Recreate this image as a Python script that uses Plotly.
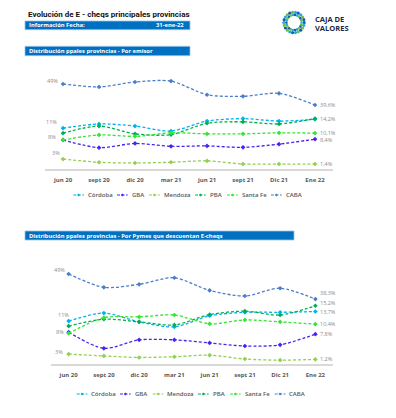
import math
import plotly.graph_objects as go

# ---------------- data ----------------
categories = ["jun 20", "sept 20", "dic 20", "mar 21", "jun 21", "sept 21", "Dic 21", "Ene 22"]
series_names = ["Córdoba", "GBA", "Mendoza", "PBA", "Santa Fe", "CABA"]

# Chart 1 - Por emisor (%)
emisor_cordoba = [11.5, 12.7, 12.1, 10.7, 13.5, 14.2, 13.5, 14.0]
emisor_gba = [8.2, 6.0, 7.2, 6.4, 6.5, 6.1, 7.0, 8.4]
emisor_mendoza = [2.8, 1.9, 1.7, 1.9, 2.3, 1.4, 1.4, 1.4]
emisor_pba = [10.1, 12.1, 9.9, 9.7, 12.9, 13.3, 12.7, 14.2]
emisor_santafe = [8.2, 9.6, 9.2, 10.2, 9.9, 9.9, 10.2, 10.1]
emisor_caba = [49.0, 47.7, 49.9, 50.3, 44.2, 43.5, 44.8, 39.6]

# Chart 2 - Por Pymes que descuentan E-cheqs (%)
pymes_cordoba = [11.2, 13.3, 11.0, 9.7, 12.6, 13.5, 13.5, 13.7]
pymes_gba = [8.3, 4.1, 6.3, 6.3, 5.5, 4.7, 5.0, 7.8]
pymes_mendoza = [2.6, 2.1, 1.7, 1.9, 2.3, 1.3, 1.0, 1.2]
pymes_pba = [9.9, 11.7, 11.0, 10.2, 12.9, 13.8, 12.8, 15.2]
pymes_santafe = [8.0, 12.1, 12.3, 12.8, 10.5, 11.5, 11.0, 10.4]
pymes_caba = [49.0, 43.3, 44.6, 47.4, 42.0, 39.6, 42.9, 38.3]

emisor = [emisor_cordoba, emisor_gba, emisor_mendoza, emisor_pba, emisor_santafe, emisor_caba]
pymes = [pymes_cordoba, pymes_gba, pymes_mendoza, pymes_pba, pymes_santafe, pymes_caba]

colors = ["#00B0F0", "#4A22F2", "#92D050", "#00B050", "#33E633", "#4A7EC9"]

W, H = 396, 418
FONT = "Open Sans"
GRAY = "#595959"
LBL = "#8E8A88"


def px(x):
    return x / W


def py(y):
    return 1 - y / H


fig = go.Figure()

for i, name in enumerate(series_names):
    sec = name == "CABA"
    fig.add_trace(go.Scatter(
        x=categories, y=emisor[i], name=name, mode="lines+markers",
        xaxis="x", yaxis="y2" if sec else "y",
        line=dict(color=colors[i], width=1.3, dash="3px,2px", shape="spline", smoothing=0.8),
        marker=dict(color=colors[i], size=3.6, symbol="diamond"),
        showlegend=False, hoverinfo="skip"))
    fig.add_trace(go.Scatter(
        x=categories, y=pymes[i], name=name, mode="lines+markers",
        xaxis="x2", yaxis="y4" if sec else "y3",
        line=dict(color=colors[i], width=1.3, dash="3px,2px", shape="spline", smoothing=0.8),
        marker=dict(color=colors[i], size=3.6, symbol="diamond"),
        showlegend=False, hoverinfo="skip"))

# ---------------- data labels ----------------
ann = []


def lab(xi, val, text, xref, yref, anchor, xs, ys):
    ann.append(dict(x=categories[xi], y=val, xref=xref, yref=yref, text=text,
                    showarrow=False, xanchor=anchor, yanchor="middle",
                    xshift=xs, yshift=ys, font=dict(size=5.5, color=LBL, family=FONT)))


def pct(v):
    return f"{v:.1f}".replace(".", ",") + "%"


# chart 1 start labels
lab(0, emisor_caba[0], "49%", "x", "y2", "right", -3, 3)
lab(0, emisor_cordoba[0], "11%", "x", "y", "right", -4, 6)
lab(0, emisor_gba[0], "8%", "x", "y", "right", -5, 3)
lab(0, emisor_mendoza[0], "3%", "x", "y", "right", -1, 6)
# chart 1 end labels
lab(7, emisor_caba[7], pct(emisor_caba[7]), "x", "y2", "left", 3, 0)
lab(7, emisor_pba[7], pct(emisor_pba[7]), "x", "y", "left", 3, 0)
lab(7, emisor_santafe[7], pct(emisor_santafe[7]), "x", "y", "left", 3, 0)
lab(7, emisor_gba[7], pct(emisor_gba[7]), "x", "y", "left", 3, -1)
lab(7, emisor_mendoza[7], pct(emisor_mendoza[7]), "x", "y", "left", 3, 0)
# chart 2 start labels
lab(0, pymes_caba[0], "49%", "x2", "y4", "right", -2, 4)
lab(0, pymes_cordoba[0], "11%", "x2", "y3", "right", 2, 6)
lab(0, pymes_gba[0], "8%", "x2", "y3", "right", -3, 0)
lab(0, pymes_mendoza[0], "3%", "x2", "y3", "right", -4, 2)
# chart 2 end labels
lab(7, pymes_caba[7], pct(pymes_caba[7]), "x2", "y4", "left", 3, 6)
lab(7, pymes_pba[7], pct(pymes_pba[7]), "x2", "y3", "left", 3, 3)
lab(7, pymes_cordoba[7], pct(pymes_cordoba[7]), "x2", "y3", "left", 3, 0)
lab(7, pymes_santafe[7], pct(pymes_santafe[7]), "x2", "y3", "left", 3, 0)
lab(7, pymes_gba[7], pct(pymes_gba[7]), "x2", "y3", "left", 3, 0)
lab(7, pymes_mendoza[7], pct(pymes_mendoza[7]), "x2", "y3", "left", 3, 0)

shapes = []

# ---------------- header ----------------
ann.append(dict(x=px(26), y=py(14.5), xref="paper", yref="paper", xanchor="left", yanchor="middle",
                text="<b>Evolución de E - cheqs principales provincias</b>", showarrow=False,
                font=dict(size=8, color="#111111", family="Roboto")))


def bar(x0, x1, y0, y1):
    shapes.append(dict(type="rect", xref="paper", yref="paper", x0=px(x0), x1=px(x1),
                       y0=py(y1), y1=py(y0), fillcolor="#0070C0",
                       line=dict(color="#9DC3E6", width=0.8), layer="below"))


def bar_text(x, y, text, anchor="left"):
    ann.append(dict(x=px(x), y=py(y), xref="paper", yref="paper", xanchor=anchor, yanchor="middle",
                    text="<b>" + text + "</b>", showarrow=False,
                    font=dict(size=5.8, color="white", family=FONT)))


bar(25, 190, 21, 29.7)
bar_text(26.5, 25.5, "Información Fecha:")
bar_text(186, 25.5, "31-ene-22", "right")
bar(25, 190, 46.3, 55.7)
bar_text(26.5, 51, "Distribución ppales provincias - Por emisor")
bar(25, 294, 231, 240)
bar_text(26.5, 235.5, "Distribución ppales provincias - Por Pymes que descuentan E-cheqs")

# ---------------- logo ----------------
logo_cols = ["#1E5AA8", "#29ABE2", "#6CC04A", "#1E5AA8", "#6CC04A", "#29ABE2"]
cx, cy = 294, 22.5
n = 22
for k in range(n):
    a = 2 * math.pi * k / n
    for r, s in ((10.2, 1.6), (7.6, 1.3)):
        x = cx + r * math.cos(a)
        y = cy + r * math.sin(a)
        shapes.append(dict(type="circle", xref="paper", yref="paper",
                           x0=px(x - s), x1=px(x + s), y0=py(y + s), y1=py(y - s),
                           fillcolor=logo_cols[(k + (r < 9)) % len(logo_cols)],
                           line=dict(width=0)))
ann.append(dict(x=px(313), y=py(19.5), xref="paper", yref="paper", xanchor="left", yanchor="middle",
                text="<b>CAJA DE</b>", showarrow=False, font=dict(size=7.5, color="#1B2A4A", family=FONT)))
ann.append(dict(x=px(313), y=py(28), xref="paper", yref="paper", xanchor="left", yanchor="middle",
                text="<b>VALORES</b>", showarrow=False, font=dict(size=7.5, color="#1B2A4A", family=FONT)))

# ---------------- custom legends ----------------
legend1_x = [73.3, 117, 149, 195, 227, 271]
legend2_x = [76.7, 120, 152.7, 198, 230, 274.7]


def legend(xs, yc):
    for i, name in enumerate(series_names):
        x0 = xs[i]
        shapes.append(dict(type="line", xref="paper", yref="paper", x0=px(x0), x1=px(x0 + 10.7),
                           y0=py(yc), y1=py(yc), line=dict(color=colors[i], width=1.2, dash="3px,1.5px")))
        m = 1.5
        xm = x0 + 5.35
        shapes.append(dict(type="path", xref="paper", yref="paper",
                           path=f"M {px(xm - m)} {py(yc)} L {px(xm)} {py(yc - m)} L {px(xm + m)} {py(yc)} L {px(xm)} {py(yc + m)} Z",
                           fillcolor=colors[i], line=dict(width=0)))
        ann.append(dict(x=px(x0 + 12.5), y=py(yc), xref="paper", yref="paper", xanchor="left",
                        yanchor="middle", text=name, showarrow=False,
                        font=dict(size=6, color=GRAY, family=FONT, weight=600)))


legend(legend1_x, 195)
legend(legend2_x, 394)

axis_x = dict(type="category", range=[-0.5, 7.5], showline=True, linecolor="#D9D9D9", linewidth=1.5,
              ticks="outside", ticklen=4, tickcolor="rgba(0,0,0,0)", showgrid=False, zeroline=False,
              tickfont=dict(size=6, color=GRAY, family=FONT, weight=700), fixedrange=True)
hidden_y = dict(visible=False, showgrid=False, zeroline=False, fixedrange=True)

fig.update_layout(
    width=W, height=H, margin=dict(l=0, r=0, t=0, b=0),
    paper_bgcolor="white", plot_bgcolor="white", showlegend=False, hovermode=False,
    xaxis=dict(axis_x, domain=[px(45), px(333)], anchor="y"),
    yaxis=dict(hidden_y, domain=[py(169), py(70)], range=[0, 27.9]),
    yaxis2=dict(hidden_y, overlaying="y", range=[10.95, 55.27], anchor="x"),
    xaxis2=dict(axis_x, domain=[px(51), px(333)], anchor="y3"),
    yaxis3=dict(hidden_y, domain=[py(364), py(255)], range=[0, 28.46], anchor="x2"),
    yaxis4=dict(hidden_y, overlaying="y3", range=[10.54, 57.12], anchor="x2"),
    annotations=ann, shapes=shapes,
)

fig.write_html("out.html", config={"displayModeBar": False, "staticPlot": True},
               post_script="document.body.style.margin='0';document.body.style.overflow='hidden';")
